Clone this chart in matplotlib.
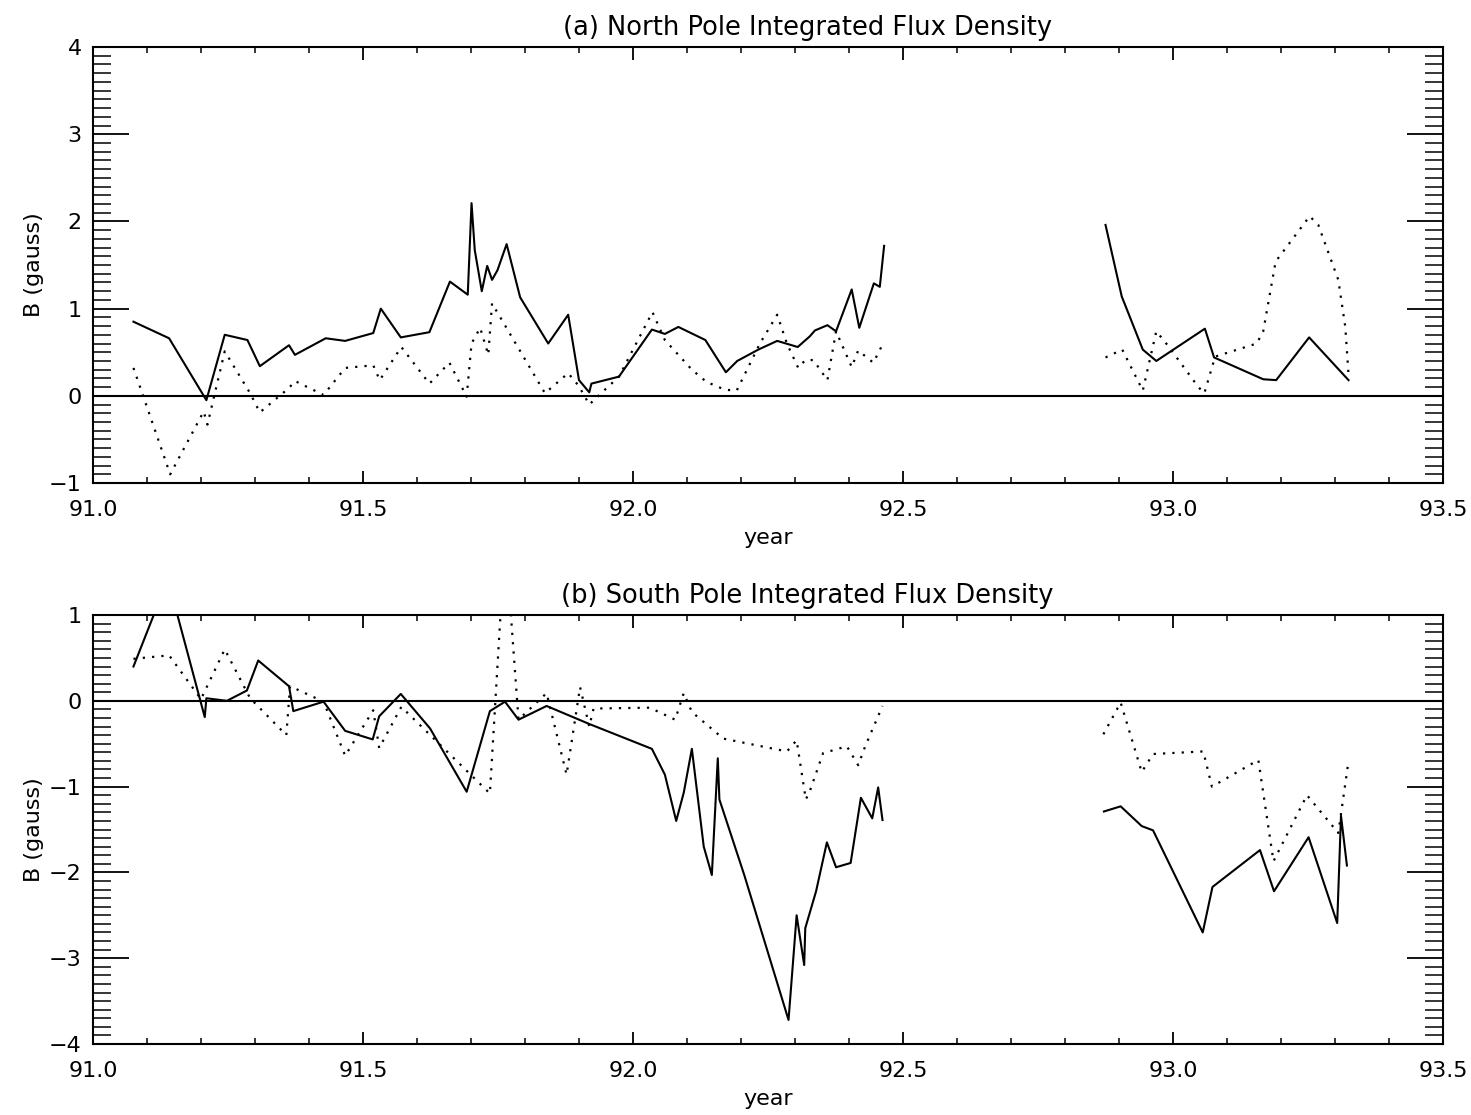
import matplotlib
matplotlib.use("Agg")
import matplotlib.pyplot as plt
from matplotlib.ticker import MultipleLocator, FormatStrFormatter

# ---------------------------------------------------------------------------
# Data; two observing periods per series
# ---------------------------------------------------------------------------
north_solid_x1 = [91.075, 91.141, 91.210, 91.244, 91.286, 91.309, 91.363, 91.374, 91.431,
                  91.467, 91.519, 91.533, 91.570, 91.623, 91.661, 91.694, 91.701, 91.707,
                  91.720, 91.730, 91.739, 91.749, 91.766, 91.791, 91.843, 91.880, 91.900,
                  91.919, 91.923, 91.974, 92.035, 92.059, 92.084, 92.134, 92.172, 92.193,
                  92.232, 92.267, 92.305, 92.327, 92.337, 92.360, 92.376, 92.405, 92.419,
                  92.446, 92.457, 92.465]
north_solid_y1 = [0.85, 0.66, -0.05, 0.70, 0.64, 0.34, 0.58, 0.47, 0.66,
                  0.63, 0.72, 1.00, 0.67, 0.73, 1.31, 1.16, 2.21, 1.67,
                  1.20, 1.49, 1.33, 1.44, 1.74, 1.13, 0.60, 0.93, 0.18,
                  0.04, 0.14, 0.22, 0.76, 0.71, 0.79, 0.64, 0.27, 0.40,
                  0.53, 0.63, 0.56, 0.68, 0.75, 0.81, 0.74, 1.22, 0.78,
                  1.29, 1.25, 1.72]
north_solid_x2 = [92.875, 92.905, 92.944, 92.969, 93.059, 93.076, 93.167, 93.191, 93.252, 93.325]
north_solid_y2 = [1.96, 1.14, 0.53, 0.40, 0.77, 0.44, 0.19, 0.18, 0.67, 0.18]

north_dot_x1 = [91.075, 91.143, 91.205, 91.212, 91.244, 91.291, 91.309, 91.363, 91.374, 91.427,
                91.467, 91.519, 91.531, 91.571, 91.623, 91.660, 91.692, 91.701, 91.717, 91.732,
                91.739, 91.837, 91.880, 91.900, 91.919, 91.948, 91.974, 92.036, 92.059, 92.109,
                92.136, 92.170, 92.192, 92.235, 92.267, 92.285, 92.306, 92.319, 92.334, 92.360,
                92.376, 92.405, 92.417, 92.445, 92.454, 92.463]
north_dot_y1 = [0.32, -0.90, -0.18, -0.33, 0.51, 0.03, -0.19, 0.09, 0.17, 0.01,
                0.32, 0.35, 0.18, 0.56, 0.14, 0.38, -0.01, 0.60, 0.78, 0.47,
                1.06, 0.03, 0.26, 0.11, -0.10, 0.07, 0.22, 0.96, 0.64, 0.30,
                0.16, 0.07, 0.06, 0.60, 0.93, 0.60, 0.32, 0.41, 0.41, 0.18,
                0.74, 0.33, 0.52, 0.38, 0.49, 0.60]
north_dot_x2 = [92.875, 92.906, 92.944, 92.969, 92.990, 93.047, 93.058, 93.078, 93.155, 93.167,
                93.190, 93.253, 93.269, 93.306, 93.319, 93.325]
north_dot_y2 = [0.44, 0.53, 0.06, 0.74, 0.58, 0.10, 0.03, 0.45, 0.60, 0.74,
                1.54, 2.06, 1.96, 1.33, 0.79, 0.24]

south_solid_x1 = [91.075, 91.120, 91.150, 91.207, 91.210, 91.248, 91.285, 91.306, 91.363, 91.371,
                  91.427, 91.467, 91.518, 91.530, 91.570, 91.624, 91.692, 91.735, 91.763, 91.788,
                  91.840, 91.919, 92.035, 92.059, 92.080, 92.094, 92.109, 92.131, 92.146, 92.157,
                  92.160, 92.206, 92.288, 92.303, 92.317, 92.319, 92.339, 92.359, 92.376, 92.403,
                  92.422, 92.443, 92.454, 92.462]
south_solid_y1 = [0.40, 1.12, 1.15, -0.19, 0.03, 0.00, 0.12, 0.47, 0.17, -0.12,
                  -0.01, -0.35, -0.45, -0.18, 0.08, -0.32, -1.06, -0.12, -0.01, -0.22,
                  -0.06, -0.27, -0.56, -0.86, -1.40, -1.07, -0.56, -1.70, -2.03, -0.67,
                  -1.15, -2.03, -3.72, -2.50, -3.08, -2.65, -2.22, -1.65, -1.94, -1.89,
                  -1.13, -1.37, -1.01, -1.39]
south_solid_x2 = [92.872, 92.903, 92.942, 92.963, 93.055, 93.073, 93.161, 93.187, 93.251, 93.304,
                  93.311, 93.322]
south_solid_y2 = [-1.29, -1.23, -1.46, -1.51, -2.70, -2.17, -1.74, -2.22, -1.59, -2.59,
                  -1.34, -1.92]

south_dot_x1 = [91.075, 91.141, 91.200, 91.244, 91.291, 91.358, 91.365, 91.427, 91.467, 91.519,
                91.530, 91.571, 91.735, 91.757, 91.771, 91.788, 91.840, 91.877, 91.902, 91.919,
                91.927, 92.031, 92.078, 92.094, 92.109, 92.167, 92.285, 92.303, 92.320, 92.327,
                92.352, 92.396, 92.417, 92.430, 92.462]
south_dot_y1 = [0.49, 0.53, 0.02, 0.60, 0.03, -0.40, 0.17, -0.01, -0.64, -0.11,
                -0.55, -0.07, -1.08, 1.25, 1.25, -0.22, 0.09, -0.86, 0.16, -0.30,
                -0.09, -0.08, -0.22, 0.09, -0.13, -0.44, -0.59, -0.46, -1.15, -1.06,
                -0.61, -0.53, -0.75, -0.53, -0.06]
south_dot_x2 = [92.871, 92.903, 92.942, 92.963, 93.056, 93.072, 93.158, 93.186, 93.248, 93.306,
                93.325]
south_dot_y2 = [-0.39, -0.02, -0.83, -0.62, -0.59, -1.00, -0.69, -1.87, -1.10, -1.54,
                -0.70]

titles = ["(a) North Pole Integrated Flux Density", "(b) South Pole Integrated Flux Density"]
ylims = [(-1, 4), (-4, 1)]

# ---------------------------------------------------------------------------
# Style
# ---------------------------------------------------------------------------
plt.rcParams["font.family"] = "DejaVu Sans"
_FS = 16
_SOLID = dict(color="black", linewidth=1.5)
_DOT = dict(color="black", linewidth=1.6, linestyle=(0, (1, 3.2)))


def _idl_axes(ax, ylim):
    ax.set_xlim(91.0, 93.5)
    ax.set_ylim(*ylim)
    ax.xaxis.set_major_locator(MultipleLocator(0.5))
    ax.xaxis.set_minor_locator(MultipleLocator(0.1))
    ax.yaxis.set_major_locator(MultipleLocator(1))
    ax.yaxis.set_minor_locator(MultipleLocator(0.1))
    ax.xaxis.set_major_formatter(FormatStrFormatter("%.1f"))
    ax.tick_params(axis="both", which="both", direction="in", top=True, right=True,
                   color="black", labelsize=_FS)
    ax.tick_params(axis="x", which="major", length=9, width=1.3, pad=12)
    ax.tick_params(axis="x", which="minor", length=4, width=1.1)
    ax.tick_params(axis="y", which="major", length=26, width=1.3, pad=8)
    ax.tick_params(axis="y", which="minor", length=13, width=1.1)
    for spine in ax.spines.values():
        spine.set_linewidth(1.5)
    ax.axhline(0, color="black", linewidth=1.5)
    ax.set_xlabel("year", fontsize=_FS, labelpad=6)
    ax.set_ylabel("B (gauss)", fontsize=_FS, labelpad=4)


fig = plt.figure(figsize=(14.71, 11.15), dpi=100)
ax1 = fig.add_axes([0.0632, 0.5668, 0.9178, 0.3910])
ax2 = fig.add_axes([0.0632, 0.0637, 0.9178, 0.3847])

ax1.plot(north_solid_x1, north_solid_y1, **_SOLID)
ax1.plot(north_solid_x2, north_solid_y2, **_SOLID)
ax1.plot(north_dot_x1, north_dot_y1, **_DOT)
ax1.plot(north_dot_x2, north_dot_y2, **_DOT)

ax2.plot(south_solid_x1, south_solid_y1, **_SOLID)
ax2.plot(south_solid_x2, south_solid_y2, **_SOLID)
ax2.plot(south_dot_x1, south_dot_y1, **_DOT)
ax2.plot(south_dot_x2, south_dot_y2, **_DOT)

for ax, title, ylim in zip([ax1, ax2], titles, ylims):
    _idl_axes(ax, ylim)
    ax.set_title(title, fontsize=18.5, pad=9, x=0.529)

fig.savefig("out.png", dpi=100)
plt.close(fig)
